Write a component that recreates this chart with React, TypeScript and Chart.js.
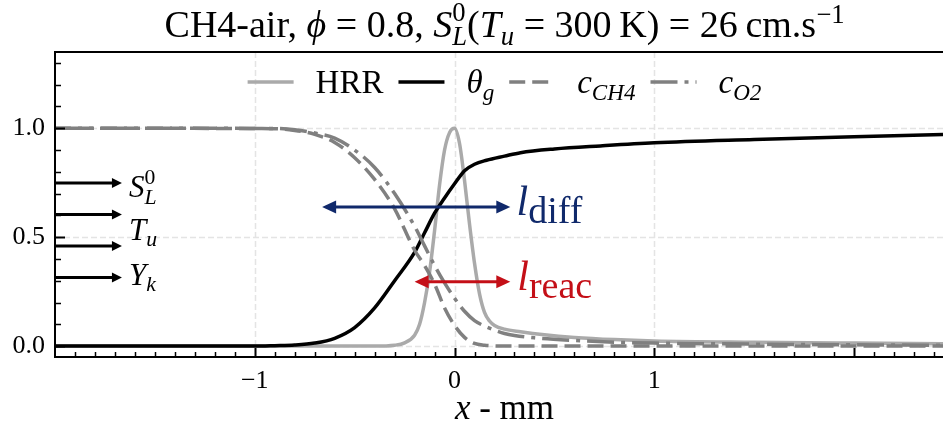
import React, { useEffect, useRef } from 'react';
import { Chart, registerables } from 'chart.js';

Chart.register(...registerables);

// ---------- data ----------
const hrrX = [-2.0, -0.4, -0.3, -0.25, -0.2, -0.175, -0.15, -0.125, -0.1, -0.075, -0.05, -0.025, 0.0, 0.025, 0.05, 0.075, 0.1, 0.125, 0.15, 0.175, 0.2, 0.25, 0.33, 0.45, 0.6, 0.8, 1.0, 1.5, 2.0, 2.445];
const hrrY = [0.0, 0.0, 0.004, 0.015, 0.05, 0.1, 0.2, 0.34, 0.53, 0.74, 0.9, 0.98, 1.0, 0.93, 0.76, 0.56, 0.38, 0.24, 0.155, 0.115, 0.095, 0.078, 0.066, 0.052, 0.04, 0.03, 0.024, 0.018, 0.014, 0.011];

const thetaX = [-2.0, -1.0, -0.9, -0.8, -0.7, -0.6, -0.5, -0.4, -0.3, -0.2, -0.15, -0.1, -0.05, 0.0, 0.05, 0.1, 0.16, 0.25, 0.33, 0.5, 0.73, 1.0, 1.5, 2.0, 2.445];
const thetaY = [0.0, 0.0, 0.002, 0.005, 0.014, 0.036, 0.085, 0.175, 0.3, 0.43, 0.52, 0.61, 0.68, 0.745, 0.805, 0.835, 0.853, 0.872, 0.888, 0.905, 0.919, 0.933, 0.948, 0.961, 0.971];

const ch4X = [-2.0, -0.9, -0.8, -0.7, -0.6, -0.5, -0.4, -0.3, -0.2, -0.15, -0.1, -0.05, 0.0, 0.05, 0.1, 0.15, 0.2, 0.3, 2.445];
const ch4Y = [1.0, 0.998, 0.99, 0.972, 0.935, 0.865, 0.765, 0.63, 0.44, 0.37, 0.285, 0.175, 0.095, 0.04, 0.012, 0.004, 0.001, 0.0, 0.0];

const o2X = [-2.0, -0.9, -0.8, -0.7, -0.6, -0.5, -0.4, -0.3, -0.2, -0.15, -0.1, -0.05, 0.0, 0.05, 0.1, 0.15, 0.2, 0.25, 0.3, 0.4, 0.6, 0.8, 1.0, 1.5, 2.0, 2.445];
const o2Y = [1.0, 0.999, 0.993, 0.978, 0.955, 0.9, 0.82, 0.7, 0.55, 0.46, 0.37, 0.29, 0.22, 0.16, 0.117, 0.092, 0.073, 0.058, 0.049, 0.038, 0.026, 0.018, 0.014, 0.009, 0.006, 0.004];

const xRange = [-2.0, 2.445];
const xAxesFullRange = [-2.0, 2.5];
const yRange = [-0.05, 1.35];
const xTickValues = [-1, 0, 1];
const xTickLabels = ['\u22121', '0', '1'];
const yTickValues = [0.0, 0.5, 1.0];
const yTickLabels = ['0.0', '0.5', '1.0'];

// annotations (data units)
const inletArrowX = [-2.0, -1.665];
const inletArrowY = [0.749, 0.604, 0.46, 0.315];
const inletLabelX = -1.63;
const inletLabelY = [0.683, 0.486, 0.28];
const diffArrowX = [-0.663, 0.279];
const diffArrowY = 0.639;
const reacArrowX = [-0.2, 0.279];
const reacArrowY = 0.295;
const diffLabelPos = [0.31, 0.601];
const reacLabelPos = [0.314, 0.257];

// ---------- style ----------
const FAMILY = '"Liberation Serif", "DejaVu Serif", serif';
const HRR_COLOR = '#aaaaaa';
const GRAY = '#808080';
const NAVY = '#10296b';
const RED = '#c40f17';
const LW = 3.5;
const DASH = [16, 7];
const DASHDOT = [27, 7, 4, 7];

type Seg = { t?: string; it?: boolean; sub?: boolean; sup?: boolean; stack?: [Seg, Seg]; size?: number; dy?: number };

const fnt = (size: number, it?: boolean) => `${it ? 'italic ' : ''}${size}px ${FAMILY}`;

function segSize(s: Seg, size: number) {
  if (s.size) return s.size;
  return s.sub || s.sup ? size * 0.7 : size;
}
function segWidth(ctx: CanvasRenderingContext2D, s: Seg, size: number): number {
  if (s.stack) {
    return Math.max(segWidth(ctx, s.stack[0], size * 0.7), segWidth(ctx, s.stack[1], size * 0.7));
  }
  ctx.font = fnt(segSize(s, size), s.it);
  return ctx.measureText(s.t || '').width;
}
function richWidth(ctx: CanvasRenderingContext2D, segs: Seg[], size: number) {
  return segs.reduce((a, s) => a + segWidth(ctx, s, size), 0);
}
function drawRich(ctx: CanvasRenderingContext2D, segs: Seg[], x: number, y: number, size: number, align: 'left' | 'center', color: string) {
  const w = richWidth(ctx, segs, size);
  let cx = align === 'center' ? x - w / 2 : x;
  ctx.fillStyle = color;
  ctx.textAlign = 'left';
  ctx.textBaseline = 'alphabetic';
  for (const s of segs) {
    if (s.stack) {
      const small = size * 0.7;
      ctx.font = fnt(small, s.stack[0].it);
      ctx.fillText(s.stack[0].t || '', cx, y - 0.42 * size);
      ctx.font = fnt(small, s.stack[1].it);
      ctx.fillText(s.stack[1].t || '', cx, y + 0.22 * size);
    } else {
      const sz = segSize(s, size);
      const dy = s.dy !== undefined ? s.dy : s.sub ? 0.2 * size : s.sup ? -0.38 * size : 0;
      ctx.font = fnt(sz, s.it);
      ctx.fillText(s.t || '', cx, y + dy);
    }
    cx += segWidth(ctx, s, size);
  }
  return w;
}

function arrowHead(ctx: CanvasRenderingContext2D, tipX: number, y: number, dir: number, len: number, hw: number) {
  ctx.beginPath();
  ctx.moveTo(tipX, y);
  ctx.lineTo(tipX - dir * len, y - hw);
  ctx.lineTo(tipX - dir * len, y + hw);
  ctx.closePath();
  ctx.fill();
}

const titleSegs: Seg[] = [
  { t: 'CH4-air, ' },
  { t: '\u03d5', it: true },
  { t: ' = 0.8, ' },
  { t: 'S', it: true },
  { stack: [{ t: '0' }, { t: 'L', it: true }] },
  { t: '(' },
  { t: 'T', it: true },
  { t: 'u', it: true, sub: true },
  { t: ' = 300\u2009K) = 26\u2009cm.s' },
  { t: '\u22121', sup: true },
];

const legendItems: { color: string; dash: number[]; label: Seg[] }[] = [
  { color: HRR_COLOR, dash: [], label: [{ t: 'HRR' }] },
  { color: '#000000', dash: [], label: [{ t: '\u03b8', it: true }, { t: 'g', it: true, sub: true }] },
  { color: GRAY, dash: DASH, label: [{ t: 'c', it: true }, { t: 'CH4', it: true, sub: true }] },
  { color: GRAY, dash: DASHDOT, label: [{ t: 'c', it: true }, { t: 'O2', it: true, sub: true }] },
];

const decor = {
  id: 'decor',
  beforeDatasetsDraw(chart: any) {
    const { ctx, chartArea: a, scales } = chart;
    const xs = scales.x, ys = scales.y;
    ctx.save();
    ctx.strokeStyle = '#e4e4e4';
    ctx.lineWidth = 1.5;
    ctx.setLineDash([6, 3]);
    for (const v of xTickValues) {
      const px = Math.round(xs.getPixelForValue(v)) + 0.5;
      ctx.beginPath(); ctx.moveTo(px, a.top); ctx.lineTo(px, a.bottom); ctx.stroke();
    }
    for (const v of yTickValues) {
      const py = Math.round(ys.getPixelForValue(v)) + 0.5;
      ctx.beginPath(); ctx.moveTo(a.left, py); ctx.lineTo(a.right, py); ctx.stroke();
    }
    ctx.restore();
  },
  afterDatasetsDraw(chart: any) {
    const { ctx, chartArea: a, scales } = chart;
    const xs = scales.x, ys = scales.y;
    ctx.save();
    ctx.setLineDash([]);
    // axes frame (left, top, bottom)
    ctx.strokeStyle = '#000';
    ctx.lineWidth = 2;
    ctx.beginPath();
    ctx.moveTo(a.right, a.top); ctx.lineTo(a.left, a.top); ctx.lineTo(a.left, a.bottom); ctx.lineTo(a.right, a.bottom);
    ctx.stroke();
    // x ticks (inward)
    for (let i = -19; i <= 24; i++) {
      const v = i / 10;
      const major = i % 10 === 0;
      const px = Math.round(xs.getPixelForValue(v)) + 0.5;
      ctx.lineWidth = major ? 2 : 1.5;
      ctx.beginPath(); ctx.moveTo(px, a.bottom); ctx.lineTo(px, a.bottom - (major ? 9 : 5)); ctx.stroke();
    }
    // y ticks (inward)
    for (let i = 0; i <= 13; i++) {
      const v = i / 10;
      const major = i % 5 === 0;
      const py = Math.round(ys.getPixelForValue(v)) + 0.5;
      ctx.lineWidth = major ? 2 : 1.5;
      ctx.beginPath(); ctx.moveTo(a.left, py); ctx.lineTo(a.left + (major ? 10 : 6), py); ctx.stroke();
    }

    // inlet arrows
    ctx.fillStyle = '#000';
    ctx.strokeStyle = '#000';
    ctx.lineWidth = 3;
    const ax0 = xs.getPixelForValue(inletArrowX[0]);
    const ax1 = xs.getPixelForValue(inletArrowX[1]);
    for (const v of inletArrowY) {
      const py = ys.getPixelForValue(v);
      ctx.beginPath(); ctx.moveTo(ax0, py); ctx.lineTo(ax1 - 8, py); ctx.stroke();
      arrowHead(ctx, ax1, py, 1, 10, 5);
    }
    const lx = xs.getPixelForValue(inletLabelX);
    drawRich(ctx, [{ t: 'S', it: true }, { stack: [{ t: '0' }, { t: 'L', it: true }] }], lx, ys.getPixelForValue(inletLabelY[0]), 31, 'left', '#000');
    drawRich(ctx, [{ t: 'T', it: true }, { t: 'u', it: true, sub: true }], lx, ys.getPixelForValue(inletLabelY[1]), 31, 'left', '#000');
    drawRich(ctx, [{ t: 'Y', it: true }, { t: 'k', it: true, sub: true }], lx, ys.getPixelForValue(inletLabelY[2]), 31, 'left', '#000');

    // double arrows
    const dbl = (xv: number[], yv: number, color: string) => {
      const p0 = xs.getPixelForValue(xv[0]);
      const p1 = xs.getPixelForValue(xv[1]);
      const py = ys.getPixelForValue(yv);
      ctx.strokeStyle = color; ctx.fillStyle = color; ctx.lineWidth = 3;
      ctx.beginPath(); ctx.moveTo(p0 + 10, py); ctx.lineTo(p1 - 10, py); ctx.stroke();
      arrowHead(ctx, p0, py, -1, 14, 6.5);
      arrowHead(ctx, p1, py, 1, 14, 6.5);
    };
    dbl(diffArrowX, diffArrowY, NAVY);
    dbl(reacArrowX, reacArrowY, RED);
    drawRich(ctx, [{ t: 'l', it: true }, { t: 'diff', size: 38, dy: 8 }],
      xs.getPixelForValue(diffLabelPos[0]), ys.getPixelForValue(diffLabelPos[1]), 42, 'left', NAVY);
    drawRich(ctx, [{ t: 'l', it: true }, { t: 'reac', size: 38, dy: 8 }],
      xs.getPixelForValue(reacLabelPos[0]), ys.getPixelForValue(reacLabelPos[1]), 42, 'left', RED);

    // title, legend, x-axis title centred on the full axes
    const cx = xs.getPixelForValue((xAxesFullRange[0] + xAxesFullRange[1]) / 2);
    const tw = richWidth(ctx, titleSegs, 32);
    const tsize = 32 * 680 / tw;
    drawRich(ctx, titleSegs, cx, 37, tsize, 'center', '#000');

    const LS = 33, HL = 46, HP = 22, CS = 15;
    const widths = legendItems.map((it) => richWidth(ctx, it.label, LS));
    const total = widths.reduce((a2, w) => a2 + w, 0) + legendItems.length * (HL + HP) + (legendItems.length - 1) * CS;
    let x = cx - total / 2;
    legendItems.forEach((it, i) => {
      ctx.strokeStyle = it.color; ctx.lineWidth = LW; ctx.setLineDash(it.dash);
      ctx.beginPath(); ctx.moveTo(x, 82); ctx.lineTo(x + HL, 82); ctx.stroke();
      ctx.setLineDash([]);
      drawRich(ctx, it.label, x + HL + HP, 93, LS, 'left', '#000');
      x += HL + HP + widths[i] + CS;
    });

    drawRich(ctx, [{ t: 'x', it: true }, { t: ' - mm' }], cx, 419, 35, 'center', '#000');
    ctx.restore();
  },
};

export default function App() {
  const ref = useRef<HTMLCanvasElement>(null);
  useEffect(() => {
    document.body.style.margin = '0';
    const canvas = ref.current!;
    const pts = (xs: number[], ys: number[]) => xs.map((x, i) => ({ x, y: ys[i] }));
    const common = { pointRadius: 0, borderWidth: LW, cubicInterpolationMode: 'monotone' as const, fill: false, borderCapStyle: 'butt' as const };
    const chart = new Chart(canvas, {
      type: 'line',
      data: {
        datasets: [
          { label: 'HRR', data: pts(hrrX, hrrY), borderColor: HRR_COLOR, order: 4, ...common },
          { label: 'theta_g', data: pts(thetaX, thetaY), borderColor: '#000000', order: 3, ...common },
          { label: 'c_CH4', data: pts(ch4X, ch4Y), borderColor: GRAY, borderDash: DASH, order: 2, ...common },
          { label: 'c_O2', data: pts(o2X, o2Y), borderColor: GRAY, borderDash: DASHDOT, order: 1, ...common },
        ],
      },
      options: {
        animation: false,
        responsive: false,
        events: [],
        layout: { padding: { left: 0, right: 0, top: 52, bottom: 0 } },
        plugins: { legend: { display: false }, title: { display: false }, tooltip: { enabled: false } },
        scales: {
          x: {
            type: 'linear',
            min: xRange[0],
            max: xRange[1],
            grid: { display: false, drawTicks: false },
            border: { display: false },
            afterBuildTicks: (s: any) => { s.ticks = xTickValues.map((v) => ({ value: v })); },
            afterFit: (s: any) => { s.height = 73; },
            ticks: {
              padding: 9,
              autoSkip: false,
              maxRotation: 0,
              color: '#000',
              font: { family: FAMILY, size: 26 },
              callback: (v: any) => { const i = xTickValues.indexOf(Number(v)); return i >= 0 ? xTickLabels[i] : ''; },
            },
          },
          y: {
            type: 'linear',
            min: yRange[0],
            max: yRange[1],
            grid: { display: false, drawTicks: false },
            border: { display: false },
            afterBuildTicks: (s: any) => { s.ticks = yTickValues.map((v) => ({ value: v })); },
            afterFit: (s: any) => { s.width = 55; },
            ticks: {
              padding: 10,
              autoSkip: false,
              color: '#000',
              font: { family: FAMILY, size: 26 },
              callback: (v: any) => { const i = yTickValues.indexOf(Number(v)); return i >= 0 ? yTickLabels[i] : ''; },
            },
          },
        },
      },
      plugins: [decor],
    });
    return () => chart.destroy();
  }, []);
  return (
    <div style={{ position: 'absolute', left: 0, top: 0, width: 943, height: 430, background: '#fff' }}>
      <canvas ref={ref} width={943} height={430} style={{ display: 'block' }} />
    </div>
  );
}
